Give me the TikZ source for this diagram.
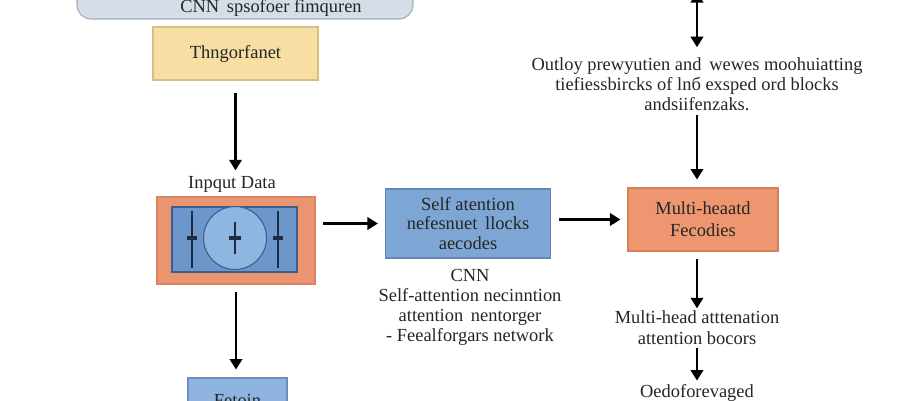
\documentclass[tikz,border=0pt]{standalone}
\usepackage{fontspec}
\setmainfont{Liberation Serif}
\usepackage{tikz}
\usetikzlibrary{positioning}
\usetikzlibrary{arrows.meta}

\definecolor{hdrfill}{HTML}{D5DDE6}
\definecolor{hdrline}{HTML}{A3AEBB}
\definecolor{thngfill}{HTML}{F7DFA3}
\definecolor{thngline}{HTML}{D6BF7F}
\definecolor{inpfill}{HTML}{EA9470}
\definecolor{inpline}{HTML}{D98560}
\definecolor{innerfill}{HTML}{6D96CB}
\definecolor{innerline}{HTML}{3E5D8E}
\definecolor{circfill}{HTML}{8DB6E1}
\definecolor{circline}{HTML}{3D5E8E}
\definecolor{tickcol}{HTML}{1E2B45}
\definecolor{sabfill}{HTML}{7EA6D5}
\definecolor{sabline}{HTML}{5F89BB}
\definecolor{mhffill}{HTML}{EE966F}
\definecolor{mhfline}{HTML}{D3815D}
\definecolor{lowfill}{HTML}{8EB4DF}
\definecolor{lowline}{HTML}{6D8FBF}

\begin{document}
\begin{tikzpicture}[x=0.02cm,y=-0.02cm,
	font=\fontsize{10.5}{11.5}\selectfont,
	flow/.style={line width=1.6pt,-{Triangle[length=6pt,width=7pt]}},
	box/.style={draw,line width=0.6pt,align=center,inner sep=2pt,text=black!85},
	txt/.style={align=center,inner sep=1pt,text=black!85}]
	\useasboundingbox (0,0) rectangle (900,400);
	\clip (0,0) rectangle (900,400);
	\fill[white] (0,0) rectangle (900,400);

	\draw[draw=hdrline,fill=hdrfill,line width=0.6pt,rounded corners=8pt] (77,-30) rectangle (413,19);
	\node[txt] (hdr) at (271,8) {CNN\, spsofoer fimquren};

	\node[box,draw=thngline,fill=thngfill,minimum width=3.3cm,minimum height=1.06cm] (thng) at (235.5,53.5) {Thngorfanet};
	\node[txt] (inlbl) at (232,184) {Inpqut Data};
	\node[box,draw=inpline,fill=inpfill,minimum width=3.16cm,minimum height=1.74cm] (inp) at (236,240.5) {};
	\draw[draw=innerline,fill=innerfill,line width=0.6pt] (172,207) rectangle (297,272);
	\draw[draw=circline,fill=circfill,line width=0.6pt] (235,238) circle (0.63cm);
	\draw[tickcol,line width=0.9pt] (192,211) -- (192,268) (278,211) -- (278,268) (235,222) -- (235,254);
	\draw[tickcol,line width=2.2pt] (187,238) -- (197,238) (229,238) -- (241,238) (273,238) -- (283,238);
	\node[box,draw=lowline,fill=lowfill,minimum width=1.98cm,minimum height=0.88cm] (low) at (237.5,400) {Fetoin};

	\node[box,draw=sabline,fill=sabfill,minimum width=3.3cm,minimum height=1.38cm,font=\fontsize{10.5}{11.3}\selectfont] (sab) at (468,223.5) {Self atention\\nefesnuet\, llocks\\aecodes};
	\node[txt,font=\fontsize{10.5}{11.5}\selectfont] (sabtxt) at (470,307.5) {CNN\\Self-attention necinntion\\attention\, nentorger\\- Feealforgars network};

	\node[box,draw=mhfline,fill=mhffill,minimum width=3cm,minimum height=1.26cm,font=\fontsize{10.5}{12.5}\selectfont] (mhf) at (703,219.5) {Multi-heaatd\\Fecodies};
	\node[txt,font=\fontsize{10.5}{12}\selectfont] (mhtxt) at (697,327.5) {Multi-head atttenation\\attention bocors};
	\node[txt] (oedo) at (697,393) {Oedoforevaged};

	\node[txt] (outtxt) at (697,84) {Outloy prewyutien and\, wewes moohuiatting\\tiefiessbircks of lnб exsped ord blocks\\andsiifenzaks.};
	\coordinate (topc) at (697,-8);

	\draw[flow,shorten <=7pt,shorten >=2pt] (thng.south) -- (thng.south |- inlbl.north);
	\draw[flow,shorten <=4.5pt,shorten >=4.5pt] (inp.south) -- (inp.south |- low.north);
	\draw[flow,shorten <=4pt,shorten >=4pt] (inp.east |- sab.west) -- (sab.west);
	\draw[flow,shorten <=4.5pt,shorten >=4pt] (sab.east |- mhf.west) -- (mhf.west);
	\draw[flow,shorten <=4.5pt] (mhtxt.north |- mhf.south) -- (mhtxt.north);
	\draw[flow,shorten <=1pt,shorten >=1pt] (mhtxt.south) -- (oedo.north);
	\draw[flow,shorten <=1pt,shorten >=4.5pt] (outtxt.south) -- (outtxt.south |- mhf.north);
	\draw[flow,{Triangle[length=6pt,width=7pt]}-{Triangle[length=6pt,width=7pt]},shorten >=4.5pt] (topc) -- (outtxt.north);
\end{tikzpicture}
\end{document}
